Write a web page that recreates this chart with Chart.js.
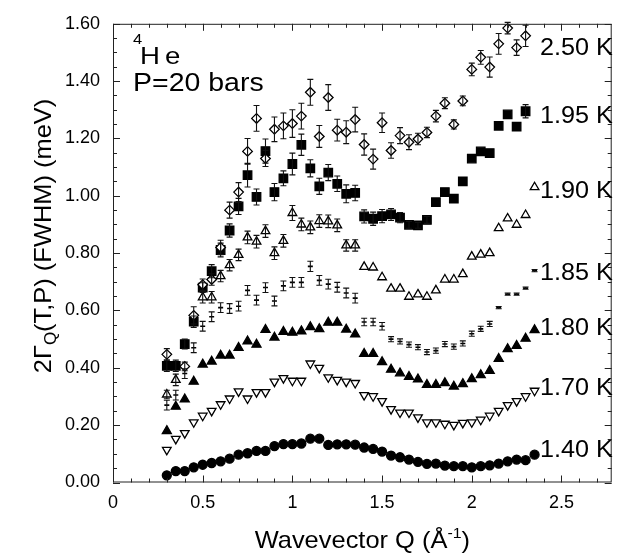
<!DOCTYPE html>
<html>
<head>
<meta charset="utf-8">
<script src="https://cdn.jsdelivr.net/npm/chart.js@4.4.1/dist/chart.umd.min.js"></script>
<style>
  html, body { margin: 0; padding: 0; background: #fff; }
  #wrap { width: 619px; height: 554px; position: relative; }
</style>
</head>
<body>
<div id="wrap"><canvas id="chart"></canvas></div>
<script>
// Wavevector grid (1/Angstrom)
const wavevector = [0.30, 0.35, 0.40, 0.45, 0.50, 0.55, 0.60, 0.65, 0.70, 0.75,
                    0.80, 0.85, 0.90, 0.95, 1.00, 1.05, 1.10, 1.15, 1.20, 1.25,
                    1.30, 1.35, 1.40, 1.45, 1.50, 1.55, 1.60, 1.65, 1.70, 1.75,
                    1.80, 1.85, 1.90, 1.95, 2.00, 2.05, 2.10, 2.15, 2.20, 2.25,
                    2.30, 2.35];

// 2Gamma (meV) per temperature
const width250 = [0.447, null, 0.405, 0.583, 0.690, 0.708, 0.820, 0.950, 1.013, 1.155,
                  1.270, 1.130, 1.232, 1.244, 1.252, 1.278, 1.361, 1.207, 1.343, 1.229,
                  1.222, 1.266, 1.179, 1.128, 1.255, 1.158, 1.210, 1.187, 1.198, 1.221,
                  1.278, 1.323, 1.249, 1.331, 1.441, 1.483, 1.449, 1.530, 1.585, 1.517,
                  1.558, null];
const width195 = [0.407, 0.407, 0.483, 0.561, 0.680, 0.737, 0.811, 0.879, 0.963, 1.072,
                  0.996, 1.156, 1.013, 1.061, 1.111, 1.178, 1.096, 1.033, 1.081, 1.042,
                  1.007, 1.010, 0.928, 0.920, 0.929, 0.935, 0.924, 0.899, 0.897, 0.916,
                  0.978, 1.013, 0.990, 1.050, 1.130, 1.155, 1.149, 1.244, 1.284, 1.241,
                  1.295, null];
const width190 = [0.307, 0.358, null, null, 0.646, 0.646, 0.720, 0.758, 0.794, 0.855,
                  0.840, 0.877, 0.800, 0.843, 0.940, 0.900, 0.890, 0.912, 0.911, 0.897,
                  0.827, 0.827, 0.752, 0.750, 0.716, 0.676, 0.676, 0.648, 0.656, 0.648,
                  0.670, 0.708, 0.708, 0.727, 0.788, 0.795, 0.800, 0.887, 0.921, 0.899,
                  0.933, 1.030];
const width185 = [0.270, 0.305, 0.380, 0.470, 0.545, 0.578, 0.610, 0.607, 0.615, 0.670,
                  0.636, 0.680, 0.633, 0.686, 0.698, 0.698, 0.754, 0.705, 0.692, 0.681,
                  0.661, 0.643, 0.560, 0.560, 0.545, 0.500, 0.492, 0.481, 0.472, 0.455,
                  0.460, 0.483, 0.474, 0.485, 0.519, 0.536, 0.553, 0.610, 0.657, 0.657,
                  0.678, 0.739];
const width180 = [0.180, 0.265, 0.290, 0.352, 0.412, 0.422, 0.443, 0.443, 0.470, 0.493,
                  0.481, 0.533, 0.506, 0.526, 0.523, 0.528, 0.542, 0.535, 0.558, 0.558,
                  0.534, 0.517, 0.449, 0.449, 0.420, 0.394, 0.381, 0.369, 0.360, 0.341,
                  0.341, 0.347, 0.335, 0.344, 0.361, 0.375, 0.390, 0.432, 0.466, 0.477,
                  0.502, 0.532];
const width170 = [0.114, 0.152, 0.172, 0.210, 0.233, 0.250, 0.273, 0.293, 0.318, 0.293,
                  0.315, 0.315, 0.352, 0.364, 0.355, 0.355, 0.415, 0.400, 0.367, 0.358,
                  0.352, 0.347, 0.305, 0.301, 0.284, 0.256, 0.244, 0.244, 0.227, 0.210,
                  0.210, 0.205, 0.201, 0.208, 0.210, 0.219, 0.233, 0.250, 0.270, 0.284,
                  0.301, 0.320];
const width140 = [0.025, 0.040, 0.040, 0.053, 0.062, 0.068, 0.074, 0.083, 0.097, 0.102,
                  0.110, 0.110, 0.127, 0.134, 0.134, 0.136, 0.153, 0.153, 0.131, 0.133,
                  0.133, 0.132, 0.122, 0.117, 0.108, 0.094, 0.088, 0.080, 0.072, 0.065,
                  0.066, 0.059, 0.057, 0.057, 0.053, 0.057, 0.060, 0.066, 0.074, 0.080,
                  0.078, 0.097];

// error bar half-heights (meV)
const err250 = [0.020, 0, 0.015, 0.030, 0.020, 0.020, 0.025, 0.028, 0.033, 0.045,
                0.045, 0.028, 0.043, 0.045, 0.048, 0.045, 0.045, 0.038, 0.045, 0.038,
                0.040, 0.043, 0.037, 0.035, 0.034, 0.027, 0.028, 0.026, 0.020, 0.018,
                0.020, 0.019, 0.016, 0.017, 0.022, 0.024, 0.035, 0.036, 0.020, 0.027,
                0.037, 0];
const err195 = [0.020, 0.020, 0.017, 0.020, 0.017, 0.023, 0.024, 0.023, 0.028, 0.041,
                0.028, 0.042, 0.030, 0.026, 0.038, 0.037, 0.030, 0.028, 0.028, 0.027,
                0.031, 0.027, 0.023, 0.023, 0.023, 0.021, 0.018, 0.012, 0.010, 0.012,
                0, 0, 0, 0, 0, 0, 0, 0, 0, 0,
                0.023, 0];
const err190 = [0.015, 0.020, 0, 0, 0.020, 0.020, 0.020, 0.020, 0.020, 0.022,
                0.022, 0.022, 0.022, 0.022, 0.026, 0.022, 0.022, 0.022, 0.022, 0.022,
                0.020, 0.020, 0, 0, 0, 0, 0, 0, 0, 0,
                0, 0, 0, 0, 0, 0, 0, 0, 0, 0,
                0, 0];
const err185 = [0.017, 0.017, 0.017, 0.017, 0.017, 0.017, 0.017, 0.017, 0.017, 0.017,
                0.017, 0.017, 0.017, 0.017, 0.017, 0.017, 0.018, 0.017, 0.017, 0.017,
                0.017, 0.017, 0.013, 0.013, 0.013, 0.009, 0.009, 0.009, 0.009, 0.009,
                0.009, 0.009, 0.009, 0.009, 0.009, 0.009, 0.009, 0.004, 0.004, 0.004,
                0.004, 0.004];

// curve labels at the right edge
const curveLabels = ['2.50 K', '1.95 K', '1.90 K', '1.85 K', '1.80 K', '1.70 K', '1.40 K'];
const curveLabelY = [1.522, 1.282, 1.023, 0.737, 0.545, 0.336, 0.118];
const curveLabelQ = 2.38;

const xTicks = [0, 0.5, 1, 1.5, 2, 2.5];
const yTicks = [0, 0.2, 0.4, 0.6, 0.8, 1.0, 1.2, 1.4, 1.6];

const FONT = '"Liberation Sans", Arial, Helvetica, sans-serif';

function toPoints(values) {
    const pts = [];
    values.forEach((v, i) => {
        if (v !== null) pts.push({ x: wavevector[i], y: v, i: i });
    });
    return pts;
}

function series(label, values, errors, style) {
    return Object.assign({
        label: label,
        data: toPoints(values),
        errors: errors,
        showLine: false,
        borderColor: '#000',
        pointBorderWidth: 1.3,
        pointBorderColor: '#000'
    }, style);
}

const datasets = [
    series('2.50 K', width250, err250, { pointStyle: 'rectRot', pointRadius: 4.8, pointBackgroundColor: '#fff' }),
    series('1.95 K', width195, err195, { pointStyle: 'rect', pointRadius: 6, pointBackgroundColor: '#000' }),
    series('1.90 K', width190, err190, { pointStyle: 'triangle', pointRadius: 5, pointBackgroundColor: '#fff' }),
    series('1.85 K', width185, err185, { pointStyle: 'line', pointRadius: 2.5, pointBorderWidth: 1.6, pointBackgroundColor: '#000' }),
    series('1.80 K', width180, null, { pointStyle: 'triangle', pointRadius: 5.2, pointBackgroundColor: '#000' }),
    series('1.70 K', width170, null, { pointStyle: 'triangle', pointRotation: 180, pointRadius: 5, pointBackgroundColor: '#fff' }),
    series('1.40 K', width140, null, { pointStyle: 'circle', pointRadius: 4.5, pointBackgroundColor: '#000' })
];

// error bars drawn through the library's y scale
const errorBarPlugin = {
    id: 'errorBars',
    afterDatasetsDraw(chart) {
        const ctx = chart.ctx;
        const yScale = chart.scales.y;
        ctx.save();
        ctx.strokeStyle = '#111';
        ctx.lineWidth = 1.1;
        chart.data.datasets.forEach((ds, di) => {
            if (!ds.errors) return;
            const meta = chart.getDatasetMeta(di);
            meta.data.forEach((pt, k) => {
                const raw = ds.data[k];
                const e = ds.errors[raw.i];
                if (!e) return;
                const top = yScale.getPixelForValue(raw.y + e);
                const bot = yScale.getPixelForValue(raw.y - e);
                ctx.beginPath();
                ctx.moveTo(pt.x, top); ctx.lineTo(pt.x, bot);
                ctx.moveTo(pt.x - 3, top); ctx.lineTo(pt.x + 3, top);
                ctx.moveTo(pt.x - 3, bot); ctx.lineTo(pt.x + 3, bot);
                ctx.stroke();
            });
        });
        ctx.restore();
    }
};

// frame with inward ticks on all four sides
const framePlugin = {
    id: 'frame',
    afterDatasetsDraw(chart) {
        const { ctx, chartArea: a, scales: { x, y } } = chart;
        ctx.save();
        ctx.strokeStyle = '#222';
        ctx.lineWidth = 1;
        ctx.strokeRect(a.left + 0.5, a.top + 0.5, a.right - a.left - 1, a.bottom - a.top - 1);
        ctx.beginPath();
        for (let k = 0; k <= 27; k++) {
            const px = Math.round(x.getPixelForValue(k / 10)) + 0.5;
            if (px > a.right - 1) break;
            const len = k % 5 === 0 ? 7 : 4;
            ctx.moveTo(px, a.bottom); ctx.lineTo(px, a.bottom - len);
            ctx.moveTo(px, a.top); ctx.lineTo(px, a.top + len);
        }
        for (let k = 0; k <= 32; k++) {
            const py = Math.round(y.getPixelForValue(k / 20)) + 0.5;
            const len = k % 4 === 0 ? 7 : 4;
            ctx.moveTo(a.left, py); ctx.lineTo(a.left + len, py);
            ctx.moveTo(a.right, py); ctx.lineTo(a.right - len, py);
        }
        ctx.stroke();
        ctx.restore();
    }
};

// text runs with a slight horizontal stretch, like the scanned lettering
function drawRuns(ctx, runs, x, y, align, sx) {
    let total = 0;
    runs.forEach(r => {
        ctx.font = r.size + 'px ' + FONT;
        r.w = ctx.measureText(r.text).width * sx;
        total += r.w;
    });
    let cx = align === 'center' ? x - total / 2 : x;
    runs.forEach(r => {
        ctx.font = r.size + 'px ' + FONT;
        ctx.save();
        ctx.translate(cx, y + (r.dy || 0));
        ctx.scale(sx, 1);
        ctx.fillText(r.text, 0, 0);
        ctx.restore();
        cx += r.w;
    });
}

const textPlugin = {
    id: 'texts',
    afterDraw(chart) {
        const { ctx, chartArea: a, scales: { x, y } } = chart;
        ctx.save();
        ctx.fillStyle = '#000';
        ctx.textBaseline = 'alphabetic';
        ctx.textAlign = 'left';

        // curve labels
        curveLabels.forEach((t, k) => {
            drawRuns(ctx, [{ text: t, size: 24 }],
                x.getPixelForValue(curveLabelQ), y.getPixelForValue(curveLabelY[k]) + 8.5, 'left', 1.05);
        });

        // 4He, P=20 bars
        drawRuns(ctx, [{ text: '4', size: 15 }], a.left + 20, 44, 'left', 1.1);
        drawRuns(ctx, [{ text: 'H', size: 24 }], a.left + 27, 64, 'left', 1.15);
        drawRuns(ctx, [{ text: 'e', size: 24 }], a.left + 52, 64, 'left', 1.15);
        drawRuns(ctx, [{ text: 'P=20 bars', size: 25 }], a.left + 20, 91, 'left', 1.14);

        // x title
        drawRuns(ctx, [
            { text: 'Wavevector Q (\u00C5', size: 24 },
            { text: '-1', size: 15, dy: -10 },
            { text: ')', size: 24 }
        ], (a.left + a.right) / 2, 548, 'center', 1.06);

        // y title, rotated
        ctx.translate(51, 236);
        ctx.rotate(-Math.PI / 2);
        drawRuns(ctx, [
            { text: '2\u0393', size: 24 },
            { text: 'Q', size: 16, dy: 5 },
            { text: '(T,P) (FWHM) (meV)', size: 24 }
        ], 0, 0, 'center', 1.06);
        ctx.restore();
    }
};

new Chart(document.getElementById('chart'), {
    type: 'scatter',
    data: { datasets: datasets },
    options: {
        responsive: true,
        maintainAspectRatio: false,
        animation: false,
        layout: { padding: { left: 0, right: 3, top: 14, bottom: 0 } },
        plugins: {
            legend: { display: false },
            tooltip: { enabled: false }
        },
        scales: {
            x: {
                type: 'linear',
                min: 0,
                max: 2.78,
                afterFit: (scale) => { scale.height = 71.5; },
                afterBuildTicks: (scale) => { scale.ticks = xTicks.map(v => ({ value: v })); },
                grid: { display: false, drawTicks: false },
                border: { display: false },
                ticks: {
                    padding: 10,
                    color: '#000',
                    font: { family: FONT, size: 18 },
                    callback: (v) => String(v)
                }
            },
            y: {
                type: 'linear',
                min: 0,
                max: 1.6,
                afterFit: (scale) => { scale.width = 113; },
                afterBuildTicks: (scale) => { scale.ticks = yTicks.map(v => ({ value: v })); },
                grid: { display: false, drawTicks: false },
                border: { display: false },
                ticks: {
                    padding: 13,
                    color: '#000',
                    font: { family: FONT, size: 18 },
                    callback: (v) => v.toFixed(2)
                }
            }
        }
    },
    plugins: [errorBarPlugin, framePlugin, textPlugin]
});
</script>
</body>
</html>
